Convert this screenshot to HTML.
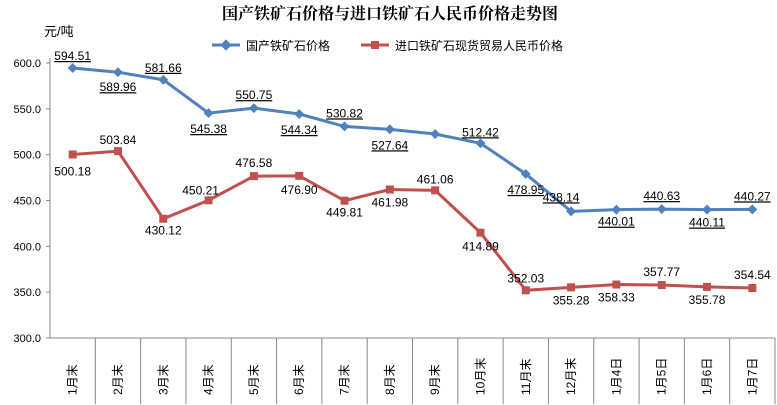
<!DOCTYPE html>
<html><head><meta charset="utf-8"><style>
body{margin:0;background:#fff}
svg{display:block;font-family:"Liberation Sans","Noto Sans CJK SC",sans-serif}
</style></head><body>
<svg id="c" width="777" height="405">
<text x="390" y="19" text-anchor="middle" font-size="16" font-weight="bold" font-family="Liberation Serif,Noto Serif CJK SC,serif">国产铁矿石价格与进口铁矿石人民币价格走势图</text>
<text x="44" y="36" font-size="13">元/吨</text>
<g><line x1="212" y1="45" x2="240" y2="45" stroke="#4f81bd" stroke-width="3"/><rect x="222" y="41" width="8" height="8" fill="#4f81bd" transform="rotate(45 226 45)"/><text x="246" y="50" font-size="12">国产铁矿石价格</text></g>
<g><line x1="361" y1="45" x2="389" y2="45" stroke="#c0504d" stroke-width="3"/><rect x="371" y="41" width="8" height="8" fill="#c0504d"/><text x="395" y="50" font-size="12">进口铁矿石现货贸易人民币价格</text></g>
<g id="g"></g>
</svg>
<script>
const categories=["1月末","2月末","3月末","4月末","5月末","6月末","7月末","8月末","9月末","10月末","11月末","12月末","1月4日","1月5日","1月6日","1月7日"];
const domestic=[594.51,589.96,581.66,545.38,550.75,544.34,530.82,527.64,522.5,512.42,478.95,438.14,440.01,440.63,440.11,440.27];
const imported=[500.18,503.84,430.12,450.21,476.58,476.90,449.81,461.98,461.06,414.89,352.03,355.28,358.33,357.77,355.78,354.54];
const showDomLabel=[1,1,1,1,1,1,1,1,0,1,1,1,1,1,1,1];
const yTicks=[300,350,400,450,500,550,600];
const domDy=[-12,15,-12,16,-13,16,-13,16,0,-11,16,-14,12,-13,13,-13];
const domDx=[0,0,0,0,0,0,0,0,0,0,0,-10,0,0,0,0];
const impDy=[17,-11,12,-10,-13,14,12,13,-11,14,-12,13,13,-13,13,-13];
const impDx=[0,0,0,-8,0,0,0,0,0,0,0,0,0,0,0,0];
const NS="http://www.w3.org/2000/svg";
const L=50,R=775,T=63,B=338,cw=(R-L)/categories.length;
const x=i=>L+cw*(i+0.5);
const y=v=>B-(v-300)*(B-T)/300;
const g=document.getElementById('g');
function mk(t,a,p){const e=document.createElementNS(NS,t);for(const k in a)e.setAttribute(k,a[k]);(p||g).appendChild(e);return e;}
mk('line',{x1:L,y1:T-5,x2:L,y2:B,stroke:'#888'});
mk('line',{x1:L,y1:B,x2:R,y2:B,stroke:'#888'});
yTicks.forEach(v=>{mk('line',{x1:L-4,y1:y(v),x2:L,y2:y(v),stroke:'#888'});
const t=mk('text',{x:L-9,y:y(v)+4,'text-anchor':'end','font-size':11});t.textContent=v.toFixed(1);

});
categories.forEach((c,i)=>{mk('line',{x1:L+cw*(i+1),y1:B,x2:L+cw*(i+1),y2:404,stroke:'#888'});
const t=mk('text',{x:0,y:0,'font-size':12,transform:`translate(${x(i)+4},395) rotate(-90)`});t.textContent=c;

});
function series(d,col,name,marker,dy,dx,under,show){
 const p=mk('polyline',{points:d.map((v,i)=>x(i)+','+y(v)).join(' '),fill:'none',stroke:col,'stroke-width':3});
 
 
 d.forEach((v,i)=>{let m;
  if(marker==='d')m=mk('rect',{x:x(i)-3.5,y:y(v)-3.5,width:7,height:7,fill:col,transform:`rotate(45 ${x(i)} ${y(v)})`});
  else m=mk('rect',{x:x(i)-4,y:y(v)-4,width:8,height:8,fill:col});
  
  
  if(show&&!show[i])return;
  const t=mk('text',{x:x(i)+(dx?dx[i]:0),y:y(v)+dy[i]+4,'text-anchor':'middle','font-size':12,'text-decoration':under?'underline':'none'});
  t.textContent=v.toFixed(2);
  
  });
}
series(domestic,'#4f81bd','domestic','d',domDy,domDx,true,showDomLabel);
series(imported,'#c0504d','import','s',impDy,impDx,false,null);
</script>
</body></html>
